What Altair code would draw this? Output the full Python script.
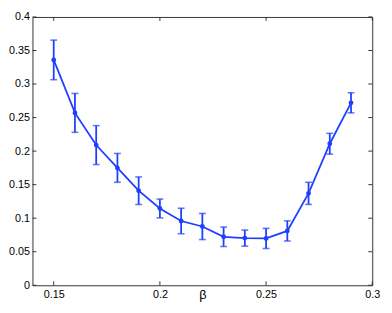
import altair as alt
import pandas as pd

beta = [0.15, 0.16, 0.17, 0.18, 0.19, 0.20, 0.21, 0.22, 0.23, 0.24, 0.25, 0.26, 0.27, 0.28, 0.29]
mean = [0.336, 0.257, 0.209, 0.175, 0.141, 0.1145, 0.0958, 0.0876, 0.0723, 0.0703, 0.0698, 0.081, 0.137, 0.211, 0.272]
err = [0.0295, 0.029, 0.029, 0.0215, 0.0205, 0.014, 0.019, 0.0195, 0.0145, 0.012, 0.015, 0.015, 0.0165, 0.0155, 0.015]
x_ticks = [0.15, 0.2, 0.25, 0.3]
y_ticks = [0, 0.05, 0.1, 0.15, 0.2, 0.25, 0.3, 0.35, 0.4]

W, H = 347, 274
BLUE = "#1f3fff"
FRAME = "#333333"

df = pd.DataFrame({"beta": beta, "val": mean,
                   "lo": [m - e for m, e in zip(mean, err)],
                   "hi": [m + e for m, e in zip(mean, err)]})
xt = pd.DataFrame({"beta": x_ticks})
yt = pd.DataFrame({"val": y_ticks})

xscale = alt.Scale(domain=[0.14, 0.3], nice=False, zero=False)
yscale = alt.Scale(domain=[0, 0.4], nice=False, zero=False)
font = "Liberation Sans"

xaxis = alt.Axis(values=x_ticks, labelExpr="'' + datum.value", domain=False, ticks=False,
                 grid=False, labelFont=font, labelFontSize=11, labelColor="black",
                 labelPadding=4, labelOverlap=False, labelFlush=False, labelBound=False,
                 title="β", titleFont=font, titleFontSize=13,
                 titleFontWeight="normal", titleColor="black",
                 titleY=17, titleBaseline="bottom")
yaxis = alt.Axis(values=y_ticks, labelExpr="'' + datum.value", domain=False, ticks=False,
                 grid=False, labelFont=font, labelFontSize=11, labelColor="black",
                 labelPadding=3, labelOverlap=False, labelFlush=False, labelBound=False,
                 title=None)


def X(f="beta"):
    return alt.X(f + ":Q", scale=xscale, axis=xaxis, title="β")


def Y(f="val"):
    return alt.Y(f + ":Q", scale=yscale, axis=yaxis, title=None)


bars = alt.Chart(df).mark_rule(color=BLUE, strokeWidth=1.8).encode(
    x=X(), y=Y("lo"), y2="hi:Q")
cap_lo = alt.Chart(df).mark_tick(color=BLUE, orient="horizontal", size=7, thickness=1.6).encode(
    x=X(), y=Y("lo"))
cap_hi = alt.Chart(df).mark_tick(color=BLUE, orient="horizontal", size=7, thickness=1.6).encode(
    x=X(), y=Y("hi"))
line = alt.Chart(df).mark_line(color=BLUE, strokeWidth=1.8).encode(x=X(), y=Y())
pts = alt.Chart(df).mark_point(color=BLUE, filled=True, opacity=1, size=24).encode(x=X(), y=Y())

tl = alt.Chart(yt).mark_rule(color=FRAME, strokeWidth=1).encode(
    y=Y(), x=alt.value(0), x2=alt.value(4))
tr = alt.Chart(yt).mark_rule(color=FRAME, strokeWidth=1).encode(
    y=Y(), x=alt.value(W - 4), x2=alt.value(W))
tb = alt.Chart(xt).mark_rule(color=FRAME, strokeWidth=1).encode(
    x=X(), y=alt.value(H - 4), y2=alt.value(H))
tt = alt.Chart(xt).mark_rule(color=FRAME, strokeWidth=1).encode(
    x=X(), y=alt.value(0), y2=alt.value(4))

chart = alt.layer(line, tl, tr, tb, tt, bars, cap_lo, cap_hi, pts).properties(
    width=W, height=H,
    autosize=alt.AutoSizeParams(type="none"),
    padding={"left": 25, "top": 6, "right": 12, "bottom": 17},
    background="white",
).configure_view(stroke=FRAME, strokeWidth=1)

chart.save("out.html", embed_options={"renderer": "svg", "actions": False})
